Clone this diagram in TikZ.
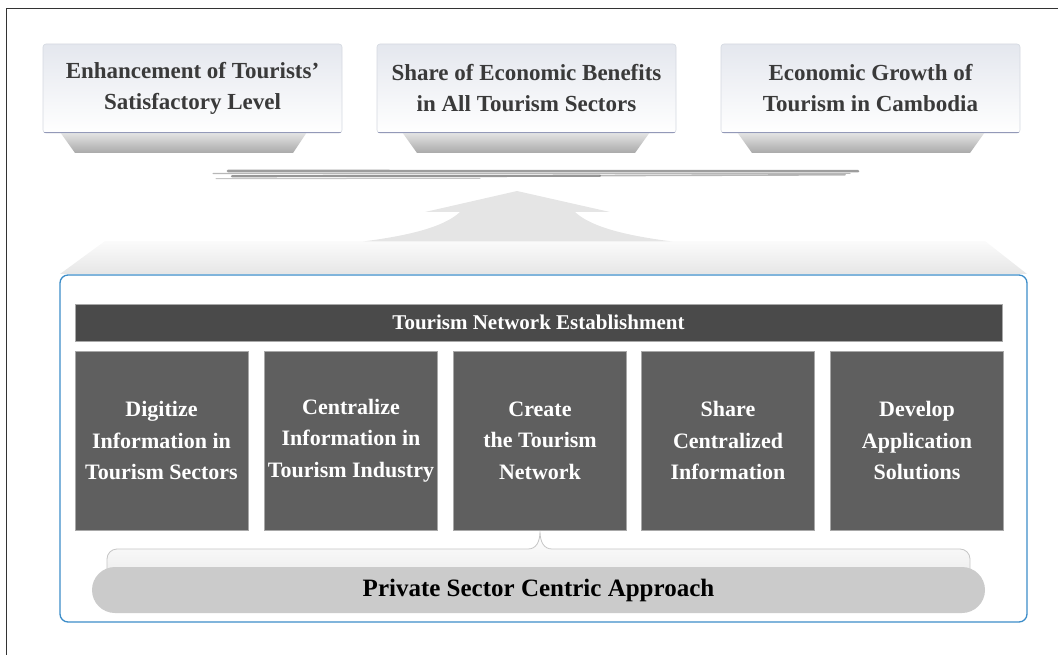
\documentclass[tikz,border=0pt]{standalone}
\usepackage{fontspec}
\setmainfont{Liberation Serif}
\usetikzlibrary{calc}
\definecolor{frameC}{HTML}{333333}
\definecolor{topTxt}{HTML}{3A3A3A}
\definecolor{topA}{HTML}{E4E7EE}
\definecolor{topB}{HTML}{FFFFFF}
\definecolor{topEdge}{HTML}{D4D8E0}
\definecolor{topBot}{HTML}{9399B8}
\definecolor{trapA}{HTML}{E6E6E6}
\definecolor{trapB}{HTML}{A9A9A9}
\definecolor{brushC}{HTML}{7C7C7C}
\definecolor{arrowC}{HTML}{E5E5E5}
\definecolor{bandA}{HTML}{FBFBFB}
\definecolor{bandB}{HTML}{E6E6E6}
\definecolor{contC}{HTML}{3C8DC9}
\definecolor{barC}{HTML}{4A4A4A}
\definecolor{boxC}{HTML}{5F5F5F}
\definecolor{boxEdge}{HTML}{A8A8A8}
\definecolor{pillC}{HTML}{CBCBCB}
\definecolor{brkA}{HTML}{FFFFFF}
\definecolor{brkB}{HTML}{EFEFEF}
\definecolor{brkEdge}{HTML}{C6C6C6}
\begin{document}
\begin{tikzpicture}[x=1pt,y=-1pt,
  goalbox/.style={draw=topEdge, line width=0.6pt, rounded corners=3pt,
    top color=topA, bottom color=topB, minimum width=299pt, minimum height=89pt,
    align=center, text=topTxt, font=\bfseries\fontsize{23}{31}\selectfont, inner sep=0pt},
  trap/.style={top color=trapA, bottom color=trapB},
  stepbox/.style={draw=boxEdge, line width=0.7pt, fill=boxC, minimum width=173pt,
    minimum height=179pt, align=center, text=white,
    font=\bfseries\fontsize{22}{31.5}\selectfont, inner sep=0pt},
  brush/.style={draw=brushC, line cap=round}
]
\useasboundingbox (0,0) rectangle (1058,655);
% outer frame
\draw[frameC, line width=1.3pt] (6.5,655) -- (6.5,8.5) -- (1058,8.5);

% trapezoid shadows under the goal boxes
\shade[trap] (60,132) -- (307,132) -- (293,153) -- (75,153) -- cycle;
\shade[trap] (402,132) -- (650,132) -- (635,153) -- (417,153) -- cycle;
\shade[trap] (737,132) -- (985,132) -- (970,153) -- (752,153) -- cycle;

% goal boxes
\node[goalbox] (g1) at (192.5,88.5) {Enhancement of Tourists’\\Satisfactory Level};
\node[goalbox] (g2) at (526.5,88.5) {Share of Economic Benefits\\in All Tourism Sectors};
\node[goalbox] (g3) at (870.5,88.5) {Economic Growth of\\Tourism in Cambodia};
\foreach \g in {g1,g2,g3}{
  \draw[topBot, line width=1.6pt, line cap=round] ($(\g.south west)+(2,-0.8)$) -- ($(\g.south east)+(-2,-0.8)$);
}

% brush strokes
\draw[brush, line width=2.6pt, draw opacity=0.75] (228,171) -- (858,171.2);
\draw[brush, line width=1.2pt, draw opacity=0.55] (213,173.6) -- (850,173.4);
\draw[brush, line width=2.2pt, draw opacity=0.8] (232,176.2) -- (600,175.8);
\draw[brush, line width=1.6pt, draw opacity=0.55] (600,175.6) -- (845,174.8);
\draw[brush, line width=1.0pt, draw opacity=0.45] (216,178.6) -- (480,178.4);

% band and arrow
\shade[top color=bandA, bottom color=bandB] (105,241) -- (985,241) -- (1027,274) -- (60,274) -- cycle;
\fill[arrowC] (517,191) -- (610,212) -- (575,212)
  .. controls (592,228) and (630,236) .. (672,241.5) -- (363,241.5)
  .. controls (405,236) and (443,228) .. (460,212) -- (425,212) -- cycle;

% container
\node[draw=contC, line width=1.3pt, rounded corners=8pt, fill=white,
  minimum width=967pt, minimum height=347pt, inner sep=0pt] (cont) at (543.5,448.5) {};

% title bar
\node[fill=barC, draw=boxEdge, line width=0.6pt, minimum width=927pt, minimum height=37pt,
  text=white, font=\bfseries\fontsize{21}{25}\selectfont, inner sep=0pt]
  (bar) at (538.5,322.5) {Tourism Network Establishment};

% five step boxes
\node[stepbox] (b1) at (161.5,440.5) {Digitize\\Information in\\Tourism Sectors};
\node[stepbox] (b2) at (351,440.5) {Centralize\\Information in\\Tourism Industry};
\node[stepbox] (b3) at (540,440.5) {Create\\the Tourism\\Network};
\node[stepbox] (b4) at (728,440.5) {Share\\Centralized\\Information};
\node[stepbox] (b5) at (917,440.5) {Develop\\Application\\Solutions};

% bracket from b3 to the pill
\coordinate (tip) at ($(b3.south)+(0,1)$);
\shade[top color=brkA, bottom color=brkB, draw=brkEdge, line width=0.8pt]
  (107,570) -- (107,559) arc[start angle=180, end angle=270, radius=10] -- (528,549)
  .. controls (536,549) and (540,542) .. (tip)
  .. controls (540,542) and (544,549) .. (552,549)
  -- (960,549) arc[start angle=270, end angle=360, radius=10] -- (970,570);

% approach pill
\node[fill=pillC, rounded corners=23pt, minimum width=893pt, minimum height=46pt,
  text=black, font=\bfseries\fontsize{25}{30}\selectfont, inner sep=0pt]
  (pill) at (538.5,590) {Private Sector Centric Approach};
\end{tikzpicture}
\end{document}
